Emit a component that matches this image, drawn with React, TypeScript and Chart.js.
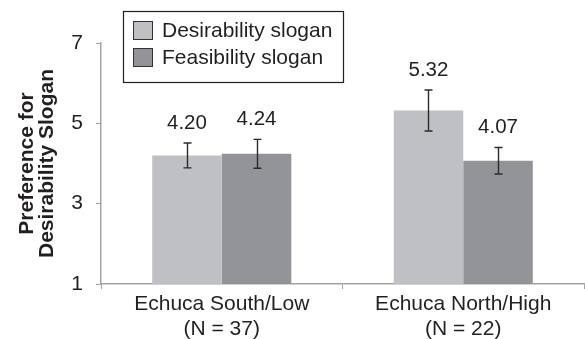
import React, { useEffect, useRef } from "react";
import { Chart, registerables } from "chart.js";

Chart.register(...registerables);

const categories: string[][] = [
  ["Echuca South/Low", "(N = 37)"],
  ["Echuca North/High", "(N = 22)"],
];
const seriesNames = ["Desirability slogan", "Feasibility slogan"];
const desirability = [4.2, 5.32];
const feasibility = [4.24, 4.07];
const desirabilityErr = [0.31, 0.51];
const feasibilityErr = [0.36, 0.33];
const yMin = 1;
const yMax = 7;
const yStep = 2;
const yTitle = ["Preference for", "Desirability Slogan"];

const FONT = "'Liberation Sans', Arial, Helvetica, sans-serif";
const TEXT = "#231f20";
const AXIS = "#a3a3a3";
const COLORS = ["#bfc0c3", "#939497"];

const errors = [desirabilityErr, feasibilityErr];

const overlayPlugin = {
  id: "overlay",
  afterDatasetsDraw(chart: any) {
    const ctx = chart.ctx;
    const yScale = chart.scales.y;
    ctx.save();
    chart.data.datasets.forEach((ds: any, di: number) => {
      const meta = chart.getDatasetMeta(di);
      meta.data.forEach((el: any, i: number) => {
        const v = ds.data[i];
        const e = errors[di][i];
        const x = Math.round(el.x) + 0.5;
        const yTop = yScale.getPixelForValue(v + e);
        const yBot = yScale.getPixelForValue(v - e);
        ctx.strokeStyle = "#2b2b2b";
        ctx.lineWidth = 1.4;
        ctx.beginPath();
        ctx.moveTo(x, yTop);
        ctx.lineTo(x, yBot);
        ctx.moveTo(x - 4, yTop);
        ctx.lineTo(x + 4, yTop);
        ctx.moveTo(x - 4, yBot);
        ctx.lineTo(x + 4, yBot);
        ctx.stroke();
        ctx.fillStyle = TEXT;
        ctx.font = `20.5px ${FONT}`;
        ctx.textAlign = "center";
        ctx.textBaseline = "middle";
        ctx.fillText(v.toFixed(2), el.x, yTop - 20);
      });
    });
    ctx.restore();
  },
  afterDraw(chart: any) {
    const ctx = chart.ctx;
    ctx.save();
    ctx.strokeStyle = TEXT;
    ctx.lineWidth = 1.2;
    ctx.strokeRect(123.5, 11.5, 220, 71);
    seriesNames.forEach((name, i) => {
      const y = 21 + i * 27;
      ctx.fillStyle = COLORS[i];
      ctx.fillRect(133, y, 20, 19);
      ctx.strokeStyle = "#333";
      ctx.lineWidth = 1;
      ctx.strokeRect(133.5, y + 0.5, 19, 18);
      ctx.fillStyle = TEXT;
      ctx.font = `21px ${FONT}`;
      ctx.textAlign = "left";
      ctx.textBaseline = "middle";
      ctx.fillText(name, 162, y + 10);
    });
    ctx.restore();
  },
};

export default function App() {
  const ref = useRef<HTMLCanvasElement>(null);
  useEffect(() => {
    if (!ref.current) return;
    const chart = new Chart(ref.current, {
      type: "bar",
      data: {
        labels: categories,
        datasets: [
          {
            label: seriesNames[0],
            data: desirability,
            backgroundColor: COLORS[0],
            categoryPercentage: 0.576,
            barPercentage: 1,
          },
          {
            label: seriesNames[1],
            data: feasibility,
            backgroundColor: COLORS[1],
            categoryPercentage: 0.576,
            barPercentage: 1,
          },
        ],
      },
      options: {
        responsive: false,
        animation: false,
        layout: { padding: { top: 43, right: 1, left: 0, bottom: 0 } },
        plugins: { legend: { display: false }, tooltip: { enabled: false } },
        scales: {
          x: {
            afterFit: (s: any) => {
              s.height = 55;
            },
            grid: {
              display: true,
              drawOnChartArea: false,
              drawTicks: true,
              tickLength: 5,
              color: AXIS,
              offset: true,
            },
            border: { display: true, color: AXIS, width: 1.5 },
            ticks: {
              color: TEXT,
              padding: 3,
              font: { family: FONT, size: 21, lineHeight: 1.19 },
            },
          },
          y: {
            min: yMin,
            max: yMax,
            afterFit: (s: any) => {
              s.width = 101;
            },
            ticks: {
              stepSize: yStep,
              color: TEXT,
              padding: 13,
              font: { family: FONT, size: 21 },
            },
            grid: {
              display: true,
              drawOnChartArea: false,
              drawTicks: true,
              tickLength: 5,
              color: AXIS,
            },
            border: { display: true, color: AXIS, width: 1.5 },
            title: {
              display: true,
              text: yTitle,
              color: TEXT,
              padding: { top: 17, bottom: 0 },
              font: { family: FONT, size: 21, weight: "bold", lineHeight: 0.95 },
            },
          },
        },
      },
      plugins: [overlayPlugin],
    });
    return () => chart.destroy();
  }, []);
  return (
    <div style={{ position: "fixed", left: 0, top: 0, width: 585, height: 339, background: "#fff" }}>
      <canvas ref={ref} width={585} height={339} />
    </div>
  );
}
